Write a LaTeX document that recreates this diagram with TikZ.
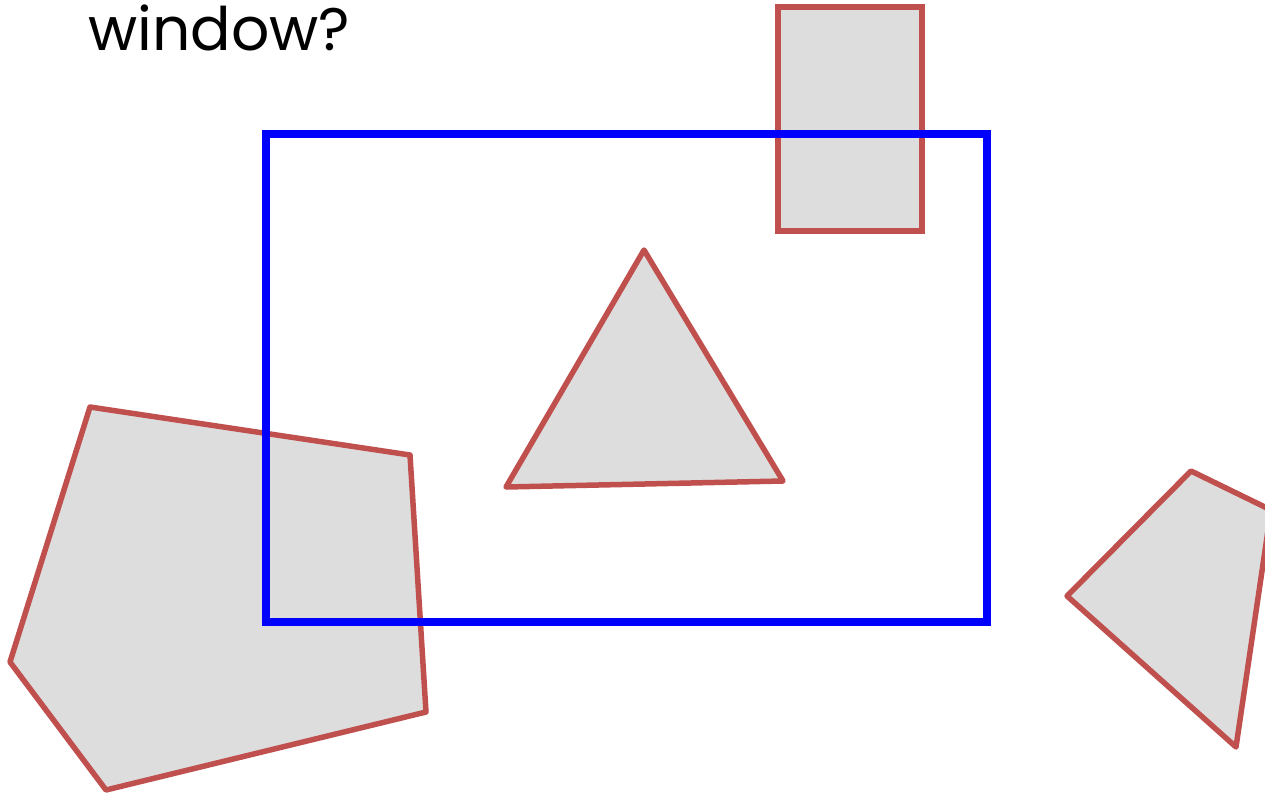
\documentclass[tikz,border=0pt]{standalone}
\usepackage{fontspec}
\setmainfont{Poppins}
\definecolor{shapered}{HTML}{C0504D}
\definecolor{shapefill}{HTML}{DDDDDD}
\begin{document}
\begin{tikzpicture}[x=1pt,y=-1pt,
  poly/.style={draw=shapered,fill=shapefill,line width=5.5pt,line join=round},
  win/.style={draw=blue,line width=8pt,line join=miter}]
\useasboundingbox (0,0) rectangle (1265,795);
\clip (0,0) rectangle (1265,795);
\node[anchor=base west,inner sep=0pt,font=\fontsize{60}{62}\selectfont] (title) at (88,50) {window?};
\draw[poly,line join=miter] (778,7) rectangle (922,231);
\draw[poly] (644,250) -- (783,481) -- (506,487) -- cycle;
\draw[poly] (90,407) -- (410,455) -- (426,712) -- (106,790) -- (10,662) -- cycle;
\draw[poly] (1191,471) -- (1271,510) -- (1236,747) -- (1067,596) -- cycle;
\draw[win] (266,134) rectangle (987,622);
\end{tikzpicture}
\end{document}
